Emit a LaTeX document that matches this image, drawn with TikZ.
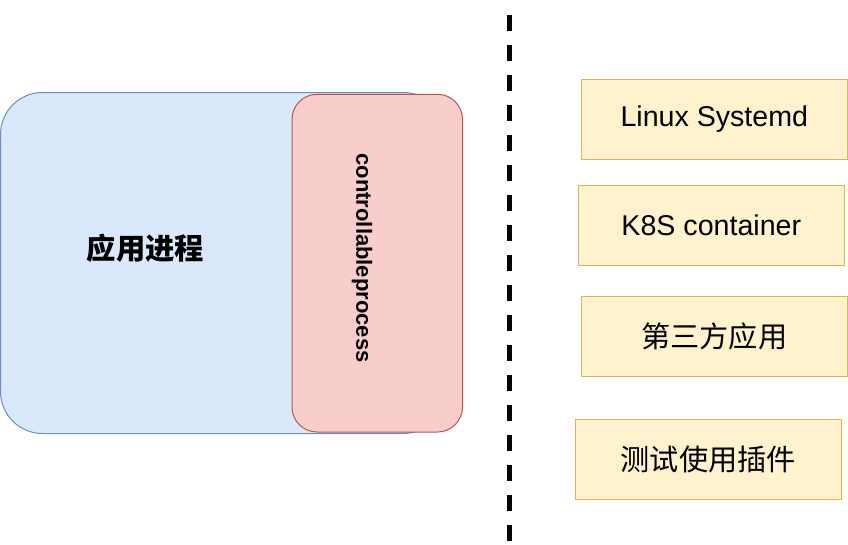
\documentclass[tikz,border=0pt]{standalone}
\usepackage{fontspec}
\setmainfont{Liberation Sans}
\newfontfamily\cjk{Noto Sans CJK SC}
\definecolor{bluefill}{HTML}{DAE8FC}
\definecolor{bluedraw}{HTML}{6C8EBF}
\definecolor{redfill}{HTML}{F8CECC}
\definecolor{reddraw}{HTML}{B85450}
\definecolor{yelfill}{HTML}{FFF2CC}
\definecolor{yeldraw}{HTML}{D6B656}
\begin{document}
\begin{tikzpicture}[x=1pt,y=-1pt,
  appbox/.style={draw=bluedraw,fill=bluefill,line width=1pt,rounded corners=42pt},
  ctrlbox/.style={draw=reddraw,fill=redfill,line width=1pt,rounded corners=25pt},
  tgtbox/.style={draw=yeldraw,fill=yelfill,line width=1.2pt,minimum width=266pt,minimum height=80pt,inner sep=0pt,font=\fontsize{28.6}{34}\selectfont},
  cjkbox/.style={tgtbox,font=\fontsize{29.2}{34}\selectfont\cjk},
  sep/.style={line width=4.5pt,dash pattern=on 16pt off 14pt}]
\useasboundingbox (0,0) rectangle (848,544);
\draw[appbox] (0.5,92.5) rectangle (445,433.5);
\draw[ctrlbox] (292,94.3) rectangle (462.5,432);
\node[font=\fontsize{29.3}{34}\selectfont\bfseries\cjk] (app) at (145.5,248) {应用进程};
\node[font=\fontsize{22}{26}\selectfont\bfseries,rotate=-90] (ctrl) at (362,258) {controllableprocess};
\coordinate (s1) at (509.5,15);
\coordinate (s2) at (509.5,544);
\draw[sep] (s1) -- (s2);
\node[tgtbox] (b1) at (714.3,119.3) {\raisebox{-1.5pt}{Linux Systemd}};
\node[tgtbox] (b2) at (711.3,225.3) {\raisebox{-1pt}{K8S container}};
\node[cjkbox] (b3) at (714.3,336.2) {第三方应用};
\node[cjkbox] (b4) at (708.3,459.3) {测试使用插件};
\end{tikzpicture}
\end{document}
